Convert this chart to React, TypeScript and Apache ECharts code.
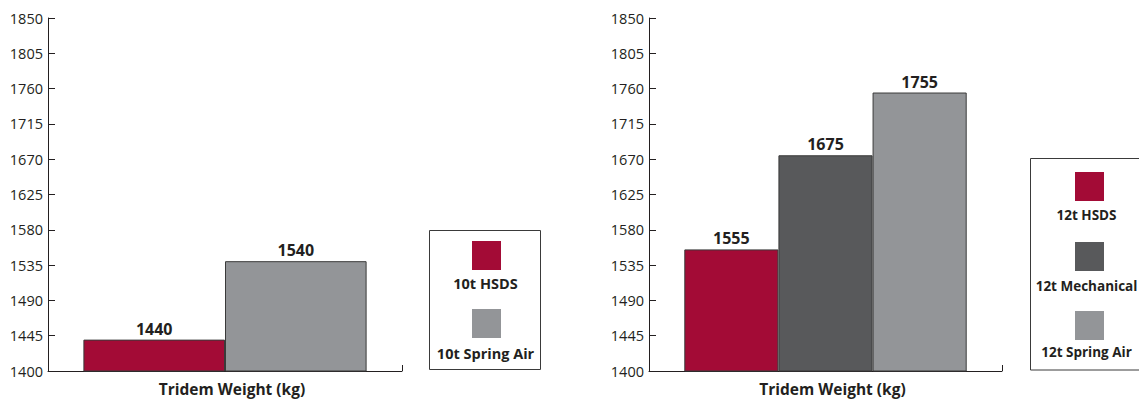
import React, { useEffect, useRef } from "react";
import * as echarts from "echarts";

const categories = ["Tridem Weight (kg)"];
const yTicks = { min: 1400, max: 1850, interval: 45 };

const leftNames = ["10t HSDS", "10t Spring Air"];
const leftValues = [1440, 1540];
const leftColors = ["#A30B36", "#939598"];

const rightNames = ["12t HSDS", "12t Mechanical", "12t Spring Air"];
const rightValues = [1555, 1675, 1755];
const rightColors = ["#A30B36", "#58595B", "#939598"];

const FONT = "'Open Sans', 'Noto Sans', sans-serif";
const AXIS_COLOR = "#231F20";

function makeAxes(idx: number) {
  return {
    x: {
      type: "category",
      gridIndex: idx,
      data: categories,
      boundaryGap: true,
      axisLine: { show: true, lineStyle: { color: AXIS_COLOR, width: 1 } },
      axisTick: { show: true, inside: true, length: 6, lineStyle: { color: AXIS_COLOR } },
      axisLabel: {
        color: "#231F20",
        fontFamily: FONT,
        fontWeight: "bold",
        fontSize: 15.5,
        margin: 10,
        padding: [0, 0, 0, 14],
      },
    },
    y: {
      type: "value",
      gridIndex: idx,
      min: yTicks.min,
      max: yTicks.max,
      interval: yTicks.interval,
      splitLine: { show: false },
      axisLine: { show: true, lineStyle: { color: AXIS_COLOR, width: 1 } },
      axisTick: { show: true, inside: true, length: 7, lineStyle: { color: AXIS_COLOR } },
      axisLabel: {
        color: "#231F20",
        fontFamily: FONT,
        fontSize: 14.5,
        margin: 5,
        formatter: (v: number) => String(v),
      },
    },
  };
}

function makeSeries(names: string[], values: number[], colors: string[], idx: number) {
  return names.map((n, i) => ({
    type: "bar",
    name: n,
    xAxisIndex: idx,
    yAxisIndex: idx,
    data: [values[i]],
    barGap: "0%",
    barCategoryGap: "20%",
    itemStyle: { color: colors[i], borderColor: "#3a3a3a", borderWidth: 1 },
    label: {
      show: true,
      position: "top",
      distance: 3,
      color: "#231F20",
      fontFamily: FONT,
      fontWeight: "bold",
      fontSize: 16,
    },
  }));
}

function makeLegend(
  names: string[],
  colors: string[],
  box: { x: number; y: number; w: number; h: number },
  cx: number,
  textCx: number,
  fontSize: number,
  squareTops: number[],
  textYs: number[]
) {
  const els: any[] = [
    {
      type: "rect",
      shape: { x: box.x, y: box.y, width: box.w, height: box.h },
      style: { fill: "#fff", stroke: "#3a3a3a", lineWidth: 1 },
    },
  ];
  names.forEach((n, i) => {
    els.push({
      type: "rect",
      shape: { x: cx - 14.5, y: squareTops[i], width: 29, height: 29 },
      style: { fill: colors[i] },
    });
    els.push({
      type: "text",
      x: textCx,
      y: textYs[i],
      style: {
        text: n,
        fill: "#231F20",
        font: `bold ${fontSize}px ${FONT}`,
        align: "center",
        verticalAlign: "middle",
      },
    });
  });
  return els;
}

export default function App() {
  const ref = useRef<HTMLDivElement>(null);
  useEffect(() => {
    if (!ref.current) return;
    const chart = echarts.init(ref.current, null, { renderer: "svg" });
    const a0 = makeAxes(0);
    const a1 = makeAxes(1);
    chart.setOption({
      animation: false,
      backgroundColor: "#ffffff",
      grid: [
        { left: 48, top: 18, width: 354, height: 353 },
        { left: 649, top: 18, width: 353, height: 353 },
      ],
      xAxis: [a0.x, a1.x],
      yAxis: [a0.y, a1.y],
      series: [
        ...makeSeries(leftNames, leftValues, leftColors, 0),
        ...makeSeries(rightNames, rightValues, rightColors, 1),
      ],
      graphic: [
        ...makeLegend(leftNames, leftColors, { x: 429.5, y: 230.5, w: 111, h: 139 }, 486.5, 485.5, 14.5, [241, 309], [283, 353]),
        ...makeLegend(rightNames, rightColors, { x: 1030.5, y: 158.5, w: 130, h: 211.5 }, 1089.5, 1086.5, 13.5, [172, 242, 311], [215, 286, 352]),
      ],
    });
    return () => chart.dispose();
  }, []);
  return (
    <div
      ref={ref}
      style={{ position: "absolute", left: 0, top: 0, width: 1139, height: 401 }}
    />
  );
}
